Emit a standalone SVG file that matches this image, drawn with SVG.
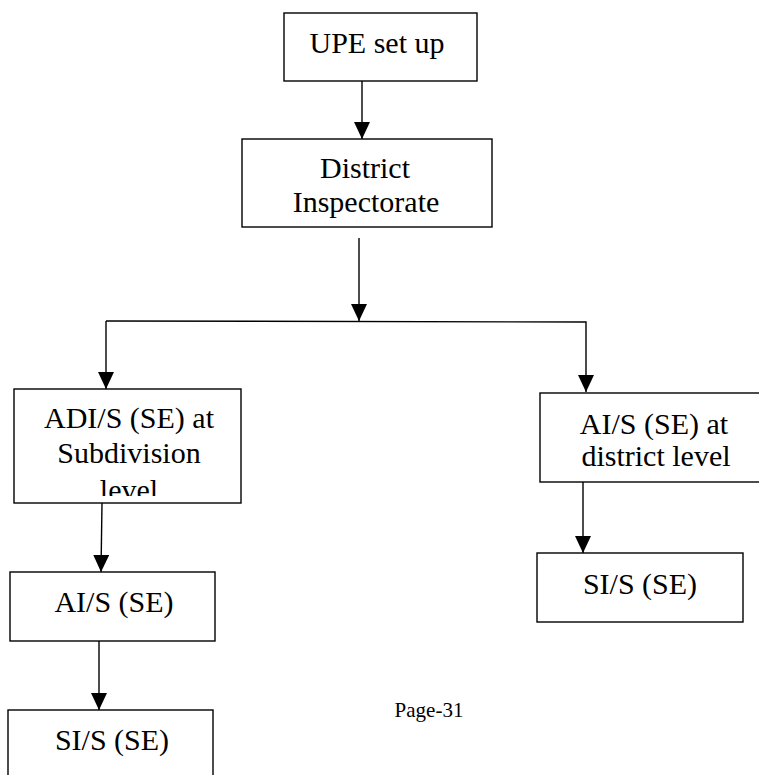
<svg xmlns="http://www.w3.org/2000/svg" width="759" height="775" viewBox="0 0 759 775">
  <style>
    .box { fill: #ffffff; stroke: #000000; stroke-width: 1.4; }
    .lbl { font-family: "Liberation Serif", "Times New Roman", serif; font-size: 30px; fill: #000000; text-anchor: middle; }
    .wire { fill: none; stroke: #000000; stroke-width: 1.4; }
    .page { font-family: "Liberation Serif", "Times New Roman", serif; font-size: 21px; fill: #000000; text-anchor: middle; }
  </style>
  <defs>
    <marker id="ah" markerUnits="userSpaceOnUse" markerWidth="17" markerHeight="16" refX="17" refY="8" orient="auto">
      <path d="M0,0 L17,8 L0,16 Z" fill="#000000"/>
    </marker>
    <clipPath id="adiClip">
      <rect x="14" y="389" width="227" height="107"/>
    </clipPath>
  </defs>
  <rect width="759" height="775" fill="#ffffff"/>

  <g id="connectors">
    <line class="wire" x1="362" y1="81" x2="362" y2="139" marker-end="url(#ah)"/>
    <line class="wire" x1="359" y1="238" x2="359" y2="321" marker-end="url(#ah)"/>
    <polyline class="wire" points="106,321 586,322 586,392" marker-end="url(#ah)"/>
    <line class="wire" x1="106" y1="321" x2="106" y2="389" marker-end="url(#ah)"/>
    <line class="wire" x1="102" y1="503" x2="101" y2="572" marker-end="url(#ah)"/>
    <line class="wire" x1="99" y1="641" x2="99" y2="710" marker-end="url(#ah)"/>
    <line class="wire" x1="583" y1="482" x2="583" y2="553" marker-end="url(#ah)"/>
  </g>

  <g id="upe">
    <rect class="box" x="284" y="13" width="193" height="68"/>
    <text class="lbl" x="377" y="53">UPE set up</text>
  </g>

  <g id="district">
    <rect class="box" x="242" y="139" width="250" height="88"/>
    <text class="lbl" x="365" y="178">District</text>
    <text class="lbl" x="366" y="212">Inspectorate</text>
  </g>

  <g id="adi-subdivision">
    <rect class="box" x="14" y="389" width="227" height="114"/>
    <g clip-path="url(#adiClip)">
      <text class="lbl" x="129" y="428">ADI/S (SE) at</text>
      <text class="lbl" x="129" y="463">Subdivision</text>
      <text class="lbl" x="129" y="500">level</text>
    </g>
  </g>

  <g id="ai-subdivision">
    <rect class="box" x="10" y="572" width="205" height="69"/>
    <text class="lbl" x="114" y="612">AI/S (SE)</text>
  </g>

  <g id="si-subdivision">
    <rect class="box" x="8" y="710" width="205" height="80"/>
    <text class="lbl" x="112" y="750">SI/S (SE)</text>
  </g>

  <g id="ai-district">
    <rect class="box" x="540" y="393" width="226" height="89"/>
    <text class="lbl" x="654" y="434">AI/S (SE) at</text>
    <text class="lbl" x="656" y="466">district level</text>
  </g>

  <g id="si-district">
    <rect class="box" x="537" y="553" width="206" height="69"/>
    <text class="lbl" x="640" y="594">SI/S (SE)</text>
  </g>

  <text class="page" x="429" y="717">Page-31</text>
</svg>
